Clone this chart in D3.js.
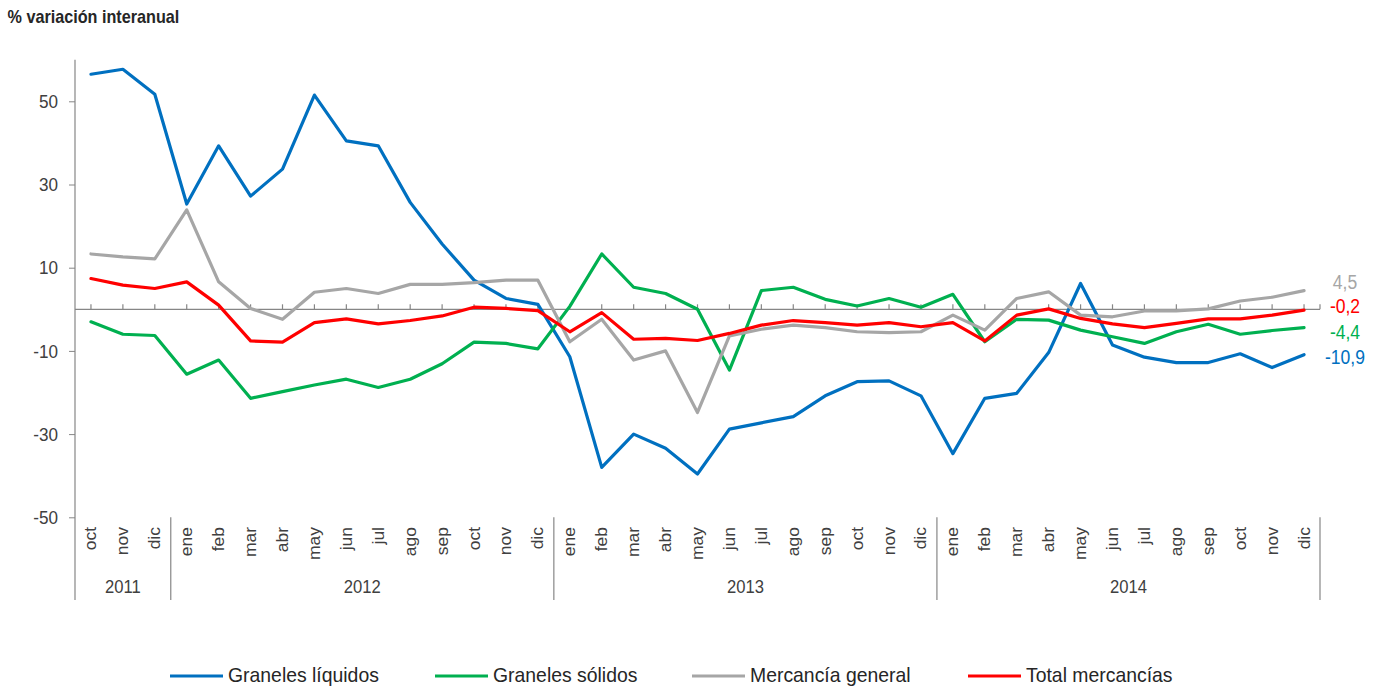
<!DOCTYPE html>
<html>
<head>
<meta charset="utf-8">
<script src="https://cdn.jsdelivr.net/npm/d3@7"></script>
<style>
  html, body { margin: 0; padding: 0; background: #fff; }
  svg { display: block; font-family: "Liberation Sans", Arial, sans-serif; }
</style>
</head>
<body>
<svg id="chart" width="1379" height="686"></svg>
<script>
// Monthly categories (Oct 2011 – Dec 2014)
const months = [
  "oct","nov","dic",
  "ene","feb","mar","abr","may","jun","jul","ago","sep","oct","nov","dic",
  "ene","feb","mar","abr","may","jun","jul","ago","sep","oct","nov","dic",
  "ene","feb","mar","abr","may","jun","jul","ago","sep","oct","nov","dic"
];
const years = ["2011", "2012", "2013", "2014"];
const monthsPerYear = [3, 12, 12, 12];

const yTicks = [50, 30, 10, -10, -30, -50];

const seriesNames = ["Graneles líquidos", "Graneles sólidos", "Mercancía general", "Total mercancías"];
const seriesColors = ["#0070C0", "#00B050", "#A6A6A6", "#FF0000"];

const granelesLiquidos = [
  56.5, 57.7, 51.7,
  25.3, 39.3, 27.2, 33.7, 51.5, 40.5, 39.3, 25.7, 15.7, 7.0, 2.6, 1.2,
  -11.4, -38.0, -30.0, -33.4, -39.6, -28.8, -27.3, -25.8, -20.8, -17.4, -17.2, -20.8,
  -34.7, -21.4, -20.2, -10.4, 6.2, -8.6, -11.5, -12.8, -12.8, -10.7, -14.0, -10.9
];
const granelesSolidos = [
  -3.0, -6.0, -6.3,
  -15.6, -12.2, -21.4, -19.8, -18.2, -16.8, -18.8, -16.8, -13.1, -7.9, -8.2, -9.5,
  0.7, 13.3, 5.3, 3.8, 0.0, -14.6, 4.5, 5.3, 2.4, 0.8, 2.6, 0.5,
  3.6, -7.8, -2.4, -2.6, -5.0, -6.6, -8.2, -5.4, -3.6, -6.0, -5.1, -4.4
];
const mercanciaGeneral = [
  13.3, 12.6, 12.1,
  23.9, 6.6, 0.2, -2.4, 4.1, 5.0, 3.8, 6.0, 6.0, 6.4, 7.0, 7.0,
  -7.8, -2.4, -12.2, -10.0, -24.8, -6.4, -4.8, -3.8, -4.4, -5.4, -5.6, -5.4,
  -1.4, -5.0, 2.6, 4.2, -1.4, -1.8, -0.4, -0.4, 0.1, 2.0, 2.9, 4.5
];
const totalMercancias = [
  7.4, 5.8, 5.0,
  6.6, 1.0, -7.6, -7.9, -3.2, -2.3, -3.5, -2.7, -1.6, 0.5, 0.2, -0.3,
  -5.4, -0.8, -7.2, -7.0, -7.5, -5.8, -3.8, -2.7, -3.2, -3.8, -3.2, -4.2,
  -3.2, -7.6, -1.4, 0.1, -2.2, -3.5, -4.4, -3.4, -2.3, -2.3, -1.4, -0.2
];
const seriesValues = [granelesLiquidos, granelesSolidos, mercanciaGeneral, totalMercancias];

// vertical nudges for the end-of-line value labels so they do not collide
const endLabelNudge = [3, 5, -8, -4];

const svg = d3.select("#chart");
const plot = { left: 75, right: 1320, top: 59.7, bottom: 517.3 };
const axisColor = "#868686";
const textColor = "#404040";
const squeeze = 0.9;   // slightly condensed lettering

const idx = d3.range(months.length);
const x = d3.scaleBand().domain(idx).range([plot.left, plot.right]);
const cx = i => x(i) + x.bandwidth() / 2;
const y = d3.scaleLinear().domain([-50, 60]).range([plot.bottom, plot.top]);

function label(g, tx, ty, str, opts = {}) {
  const sx = opts.squeeze != null ? opts.squeeze : squeeze;
  const t = g.append("text")
    .attr("transform", `translate(${tx},${ty}) scale(${sx},1)` + (opts.rotate ? ` rotate(${opts.rotate})` : ""))
    .attr("text-anchor", opts.anchor || "start")
    .attr("font-size", opts.size || 18)
    .attr("fill", opts.fill || textColor)
    .text(str);
  if (opts.dy) t.attr("dy", opts.dy);
  if (opts.weight) t.attr("font-weight", opts.weight);
  return t;
}

// Title
label(svg, 7.5, 22.5, "% variación interanual", { size: 18, weight: "bold", fill: "#262626" });

// Y axis
const yAxis = d3.axisLeft(y).tickValues(yTicks).tickSize(6).tickFormat("");
const yg = svg.append("g").attr("transform", `translate(${plot.left},0)`).call(yAxis);
yg.select(".domain").remove();
yg.selectAll(".tick line").attr("stroke", axisColor);
svg.append("line")
  .attr("x1", plot.left).attr("x2", plot.left)
  .attr("y1", plot.top).attr("y2", 600)
  .attr("stroke", axisColor).attr("stroke-width", 1.2);
yTicks.forEach(v => label(svg, 58, y(v), String(v), { anchor: "end", size: 19, dy: "0.35em" }));

// Zero line with category ticks
const zero = y(0);
svg.append("line")
  .attr("x1", plot.left).attr("x2", plot.right)
  .attr("y1", zero).attr("y2", zero)
  .attr("stroke", axisColor).attr("stroke-width", 1.2);
const tickXs = idx.map(cx).concat([plot.right]);
svg.append("g").selectAll("line").data(tickXs).join("line")
  .attr("x1", d => d).attr("x2", d => d)
  .attr("y1", zero - 5).attr("y2", zero)
  .attr("stroke", axisColor).attr("stroke-width", 1.2);

// Year separators below the plot
let acc = 0;
const bounds = [0];
monthsPerYear.forEach(n => { acc += n; bounds.push(acc); });
svg.append("g").selectAll("line").data(bounds.slice(1)).join("line")
  .attr("x1", b => x(b - 1) + x.bandwidth()).attr("x2", b => x(b - 1) + x.bandwidth())
  .attr("y1", plot.bottom).attr("y2", 600)
  .attr("stroke", axisColor).attr("stroke-width", 1.2);

// Month labels (rotated)
const mg = svg.append("g");
months.forEach((m, i) => label(mg, cx(i), 527, m, { anchor: "end", size: 17.5, rotate: -90, dy: "0.35em" }));

// Year labels
years.forEach((yr, k) => {
  const x0 = x(bounds[k]);
  const x1 = x(bounds[k + 1] - 1) + x.bandwidth();
  label(svg, (x0 + x1) / 2, 593, yr, { anchor: "middle", size: 18.5 });
});

// Series lines
const line = d3.line().x((d, i) => cx(i)).y(d => y(d));
const lg = svg.append("g");
seriesValues.forEach((vals, s) => {
  lg.append("path")
    .datum(vals)
    .attr("d", line)
    .attr("fill", "none")
    .attr("stroke", seriesColors[s])
    .attr("stroke-width", 3.2)
    .attr("stroke-linejoin", "round")
    .attr("stroke-linecap", "round");
});

// End-of-line value labels
const fmt = v => v.toFixed(1).replace(".", ",");
seriesValues.forEach((vals, s) => {
  const last = vals[vals.length - 1];
  label(svg, 1345, y(last) + endLabelNudge[s], fmt(last),
    { anchor: "middle", size: 19.5, fill: seriesColors[s], dy: "0.35em" });
});

// Legend
const legendX = [170, 435, 692, 968];
const legendY = 674.5;
seriesNames.forEach((name, s) => {
  svg.append("line")
    .attr("x1", legendX[s]).attr("x2", legendX[s] + 53)
    .attr("y1", legendY + 1.5).attr("y2", legendY + 1.5)
    .attr("stroke", seriesColors[s]).attr("stroke-width", 3.2);
  label(svg, legendX[s] + 58, legendY, name, { size: 20, fill: "#262626", dy: "0.35em", squeeze: 0.97 });
});
</script>
</body>
</html>
